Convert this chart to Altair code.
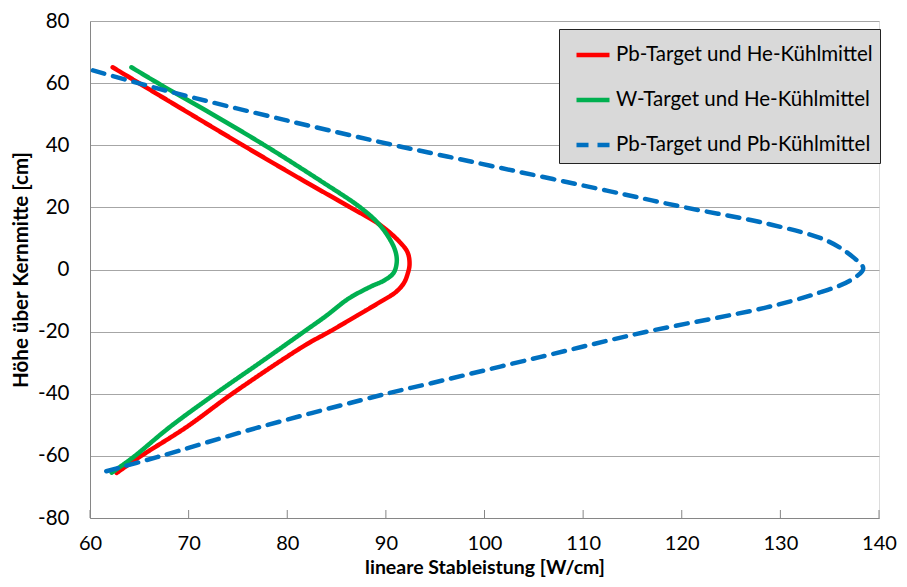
import altair as alt
import pandas as pd

# Pb-Target und He-Kühlmittel (x = W/cm, y = cm)
red_x = [62.3, 68.9, 75.5, 81.7, 86.4, 89.3, 91.3, 92.2, 92.4, 92.2, 91.8, 91.0, 89.4, 87.1, 84.3, 81.8, 74.5, 69.8, 65.0, 62.7]
red_y = [65.1, 52.5, 40.0, 28.5, 20.0, 14.6, 9.2, 5.5, 1.7, -1.5, -4.5, -7.3, -10.5, -14.8, -20.0, -24.4, -39.8, -50.7, -60.4, -65.5]

# W-Target und He-Kühlmittel
green_x = [64.2, 67.1, 72.4, 77.7, 83.4, 87.4, 89.3, 90.5, 91.0, 91.1, 90.8, 89.9, 88.4, 86.2, 84.0, 81.7, 77.6, 72.8, 68.1, 64.4, 62.2]
green_y = [65.1, 59.6, 50.0, 40.0, 28.5, 20.0, 14.6, 9.2, 5.5, 2.3, -1.0, -3.4, -5.6, -9.4, -14.8, -20.0, -29.2, -39.8, -50.7, -60.4, -65.4]

# Pb-Target und Pb-Kühlmittel
blue_x = [60.3, 67.8, 80.2, 90.3, 95.0, 100.6, 112.4, 120.0, 128.6, 134.7, 137.4, 138.4, 137.1, 133.7, 128.6, 116.2, 105.6, 94.6, 90.3, 76.9, 66.8, 61.0]
blue_y = [64.1, 57.5, 47.8, 40.4, 37.2, 33.4, 25.4, 20.2, 14.8, 9.3, 3.9, 0.3, -3.5, -7.7, -12.2, -20.2, -28.2, -36.6, -39.8, -51.0, -60.4, -65.5]

series = ["Pb-Target und He-Kühlmittel", "W-Target und He-Kühlmittel", "Pb-Target und Pb-Kühlmittel"]
colors = ["#ff0000", "#00b050", "#0070c0"]
dashes = [[1, 0], [1, 0], [12, 9]]

x_ticks = [60, 70, 80, 90, 100, 110, 120, 130, 140]
y_ticks = [-80, -60, -40, -20, 0, 20, 40, 60, 80]

rows = []
for name, xs, ys in zip(series, [red_x, green_x, blue_x], [red_y, green_y, blue_y]):
    for i, (a, b) in enumerate(zip(xs, ys)):
        rows.append({"Serie": name, "x": a, "y": b, "i": i})
df = pd.DataFrame(rows)

W, H = 789, 497
FONT = "Lato"

legend = alt.Legend(
    title=None, orient="none", legendX=469, legendY=8,
    fillColor="#d9d9d9", strokeColor="#222222", padding=7,
    symbolType="stroke", symbolSize=1089, symbolStrokeWidth=4.5,
    symbolOffset=8, labelFontSize=20.5, labelFont=FONT, labelColor="#000000",
    labelOffset=4, rowPadding=15, labelLimit=400,
)

xscale = alt.Scale(domain=[60, 140], nice=False, zero=False)
yscale = alt.Scale(domain=[-80, 80], nice=False, zero=False)

lines = alt.Chart(df).mark_line(strokeWidth=4.5, interpolate="catmull-rom", strokeCap="round").encode(
    x=alt.X("x:Q", scale=xscale, axis=alt.Axis(
        values=x_ticks, title="lineare Stableistung [W/cm]", grid=False, ticks=False, tickSize=0,
        labelPadding=15, labelFlush=False, labelExpr="toString(datum.value)",
        titleFontWeight="bold", titleFontSize=19.5, titleFont=FONT,
        labelFont=FONT, labelFontSize=20, labelColor="#000000", titleColor="#000000",
        domainColor="#868686", titleY=49, titleBaseline="middle")),
    y=alt.Y("y:Q", scale=yscale, axis=alt.Axis(
        values=y_ticks, title="Höhe über Kernmitte [cm]", grid=True, gridColor="#a6a6a6",
        ticks=False, tickSize=0, labelPadding=21, labelFlush=False,
        labelExpr="toString(datum.value)", titleFontWeight="bold", titleFontSize=20.5,
        titleFont=FONT, labelFont=FONT, labelFontSize=20.5, labelColor="#000000",
        titleColor="#000000", domainColor="#868686", titleX=-69, titleY=H / 2,
        titleBaseline="middle", titleAngle=270)),
    color=alt.Color("Serie:N", scale=alt.Scale(domain=series, range=colors), legend=legend),
    strokeDash=alt.StrokeDash("Serie:N", scale=alt.Scale(domain=series, range=dashes), legend=legend),
    order="i:Q",
)

tick_df = pd.DataFrame({"t": x_ticks})
ticks = alt.Chart(tick_df).mark_rule(color="#868686", strokeWidth=1).encode(
    x=alt.X("t:Q", scale=xscale),
    y=alt.value(H),
    y2=alt.value(H - 8),
)

chart = alt.layer(ticks, lines).properties(
    width=W, height=H,
    autosize=alt.AutoSizeParams(type="none"),
    padding={"left": 82, "top": 13, "right": 19, "bottom": 61},
).configure_view(stroke="#a6a6a6", strokeWidth=1).configure(background="white")

chart.save("out.html", embed_options={"renderer": "svg", "actions": False})
